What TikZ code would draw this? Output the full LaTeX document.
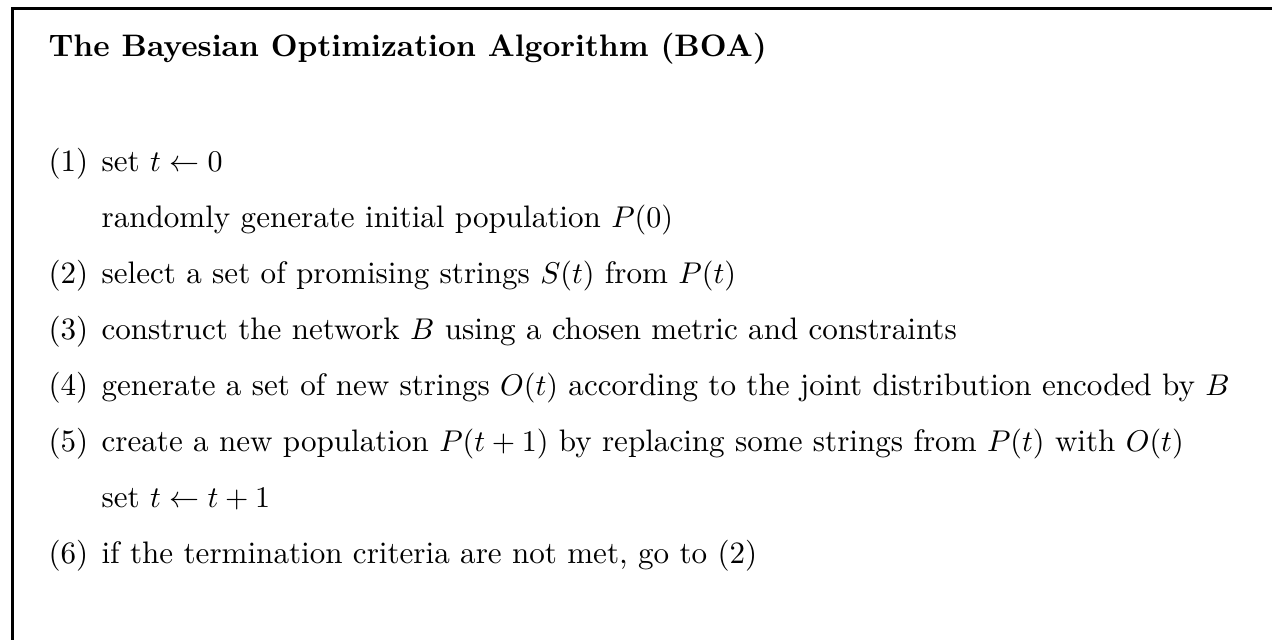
\documentclass[tikz,border=0pt]{standalone}
\begin{document}
\begin{tikzpicture}[x=0.3333pt,y=-0.3333pt,
  txt/.style={anchor=base west,inner sep=0pt,font=\fontsize{10.36}{12.5}\selectfont},
  frame/.style={line width=1pt}]
\useasboundingbox (0,0) rectangle (1272,640);
\coordinate (tr) at (1280,9);
\coordinate (tl) at (12.5,9);
\coordinate (bl) at (12.5,650);
\draw[frame] (bl) -- (tl) -- (tr);
\node[txt] (title) at (48,57) {\bfseries The Bayesian Optimization Algorithm (BOA)};
\node[txt] (n1) at (48,172) {(1)};
\node[txt] (l1) at (101,172) {set $t\leftarrow 0$};
\node[txt] (l1b) at (101,228) {randomly generate initial population $P(0)$};
\node[txt] (n2) at (48,284) {(2)};
\node[txt] (l2) at (101,284) {select a set of promising strings $S(t)$ from $P(t)$};
\node[txt] (n3) at (48,340) {(3)};
\node[txt] (l3) at (101,340) {construct the network $B$ using a chosen metric and constraints};
\node[txt] (n4) at (48,396) {(4)};
\node[txt] (l4) at (101,396) {generate a set of new strings $O(t)$ according to the joint distribution encoded by $B$};
\node[txt] (n5) at (48,452) {(5)};
\node[txt] (l5) at (101,452) {create a new population $P(t+1)$ by replacing some strings from $P(t)$ with $O(t)$};
\node[txt] (l5b) at (101,508) {set $t\leftarrow t+1$};
\node[txt] (n6) at (48,564) {(6)};
\node[txt] (l6) at (101,564) {if the termination criteria are not met, go to (2)};
\end{tikzpicture}
\end{document}
